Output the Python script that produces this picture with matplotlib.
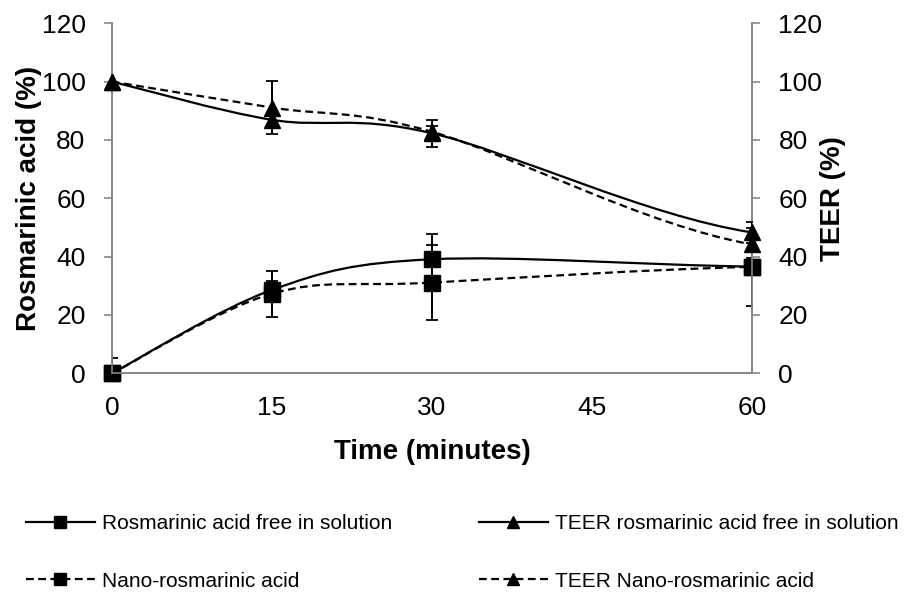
import numpy as np
import matplotlib
matplotlib.use('Agg')
import matplotlib.pyplot as plt
from matplotlib.path import Path
from matplotlib.patches import PathPatch
from matplotlib.lines import Line2D

plt.rcParams['font.family'] = ['Liberation Sans', 'DejaVu Sans']

# data
time = [0, 15, 30, 60]
ra_free = [0, 28.6, 39.1, 36.6]
ra_free_err = [5.4, 3, 8.7, 3]
ra_nano = [0, 27.3, 31.1, 36.5]
ra_nano_err = [0, 7.9, 12.8, 13.4]
teer_free = [100, 86.9, 82.3, 48.3]
teer_free_err = [0, 2, 4.7, 3.6]
teer_nano = [100, 91.1, 82.8, 44.2]
teer_nano_err = [0, 9.2, 2, 2]

labels = ['Rosmarinic acid free in solution', 'Nano-rosmarinic acid',
          'TEER rosmarinic acid free in solution', 'TEER Nano-rosmarinic acid']

grey = '#868686'
dash = (0, (3.5, 2))


def smooth_path(xs, ys, end_flat=0.5):
    # smoothed line: catmull-rom as cubic bezier, right end eased flatter
    p = np.column_stack([xs, ys]).astype(float)
    d = p[-1] - p[-2]
    tail = p[-1] + np.array([d[0], (end_flat * 2 - 1) * d[1]])
    ext = np.vstack([p[0], p, tail])
    verts = [p[0]]
    codes = [Path.MOVETO]
    for i in range(len(p) - 1):
        c1 = ext[i + 1] + (ext[i + 2] - ext[i]) / 6.0
        c2 = ext[i + 2] - (ext[i + 3] - ext[i + 1]) / 6.0
        verts += [c1, c2, p[i + 1]]
        codes += [Path.CURVE4] * 3
    return Path(verts, codes)


def draw(ax, ys, err, marker, ls, ms):
    ax.add_patch(PathPatch(smooth_path(time, ys), fill=False, edgecolor='black',
                           lw=1.6, linestyle=ls, zorder=3))
    ax.errorbar(time, ys, yerr=err, fmt='none', ecolor='black', elinewidth=1.4,
                capsize=4.5, capthick=1.3, zorder=4)
    ax.plot(time, ys, linestyle='none', marker=marker, color='black', ms=ms,
            zorder=5, clip_on=False)


fig = plt.figure(figsize=(9.08, 5.94), dpi=100)
ax = fig.add_axes([112 / 908, 1 - 373.3 / 594, 640 / 908, 350 / 594])
ax2 = ax.twinx()

draw(ax, ra_free, ra_free_err, 's', '-', 11)
draw(ax, ra_nano, ra_nano_err, 's', dash, 11)
draw(ax2, teer_free, teer_free_err, '^', '-', 11)
draw(ax2, teer_nano, teer_nano_err, '^', dash, 11)

for a in (ax, ax2):
    a.set_xlim(0, 60)
    a.set_ylim(0, 120)
    a.set_yticks(range(0, 121, 20))
    a.spines['top'].set_visible(False)
    for s in ('left', 'right', 'bottom'):
        a.spines[s].set_color(grey)
        a.spines[s].set_linewidth(1.2)
    a.tick_params(axis='y', length=6, width=1.2, color=grey, labelsize=19, pad=13)
    a.tick_params(axis='x', length=0, labelsize=19, pad=16)

ax.set_xticks([0, 15, 30, 45, 60])
ax.set_xlabel('Time (minutes)', fontsize=20, fontweight='bold', labelpad=14)
ax.set_ylabel('Rosmarinic acid (%)', fontsize=20, fontweight='bold')
ax.yaxis.set_label_coords(-(112 - 42) / 640, 0.5)
ax2.set_ylabel('TEER (%)', fontsize=20, fontweight='bold', rotation=90)
ax2.yaxis.set_label_coords(1 + (820 - 752) / 640, 0.5)

handles = [
    Line2D([], [], color='black', lw=1.6, marker='s', ms=8),
    Line2D([], [], color='black', lw=1.6, ls=dash, marker='s', ms=8),
    Line2D([], [], color='black', lw=1.6, marker='^', ms=8),
    Line2D([], [], color='black', lw=1.6, ls=dash, marker='^', ms=8),
]
fig.legend(handles, labels, ncol=2, loc='upper left', frameon=False,
           bbox_to_anchor=(26 / 908, 1 - 514 / 594), borderpad=0, borderaxespad=0,
           fontsize=15, handlelength=3.3, handletextpad=0.35, columnspacing=4.15,
           labelspacing=1.85)

fig.savefig('out.png', dpi=100)
